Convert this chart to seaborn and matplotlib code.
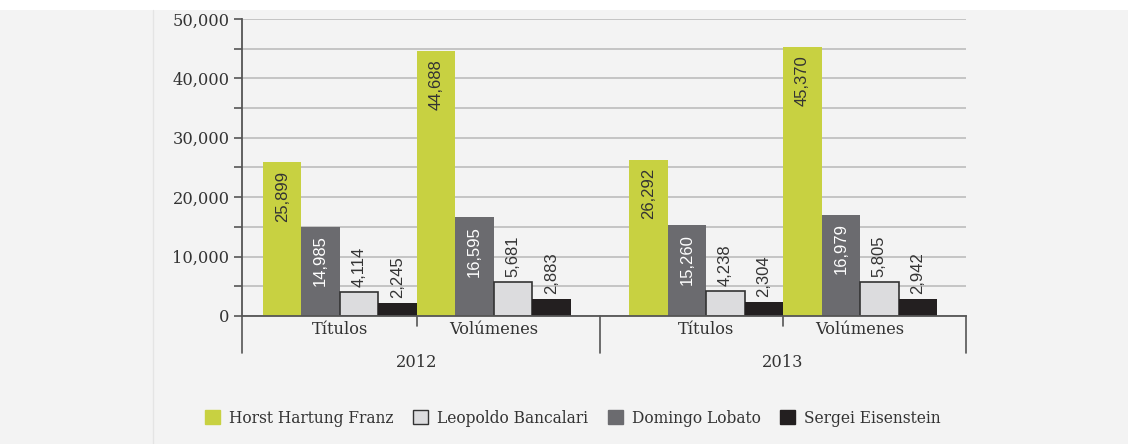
import matplotlib
matplotlib.use("Agg")
import matplotlib.pyplot as plt
from matplotlib.patches import Patch, Rectangle
from matplotlib.lines import Line2D
from matplotlib.ticker import MultipleLocator, FuncFormatter
import pandas as pd
import seaborn as sns

# data
years = ["2012", "2012", "2013", "2013"]
kinds = ["Títulos", "Volúmenes", "Títulos", "Volúmenes"]
horst = [25899, 44688, 26292, 45370]
domingo = [14985, 16595, 15260, 16979]
leopoldo = [4114, 5681, 4238, 5805]
sergei = [2245, 2883, 2304, 2942]

series = {
    "Horst Hartung Franz": horst,
    "Domingo Lobato": domingo,
    "Leopoldo Bancalari": leopoldo,
    "Sergei Eisenstein": sergei,
}
colors = {
    "Horst Hartung Franz": "#c8d141",
    "Domingo Lobato": "#6b6b6f",
    "Leopoldo Bancalari": "#dcdcde",
    "Sergei Eisenstein": "#231f20",
}
legend_order = ["Horst Hartung Franz", "Leopoldo Bancalari",
                "Domingo Lobato", "Sergei Eisenstein"]

# extra spacing between the two years (in category units)
year_gap = 0.377
year_list = sorted(set(years))
positions = [i + year_list.index(y) * year_gap for i, y in enumerate(years)]

rows = []
for name, vals in series.items():
    for p, v in zip(positions, vals):
        rows.append({"pos": p, "value": v, "serie": name})
df = pd.DataFrame(rows)

sns.set_style("white")
plt.rcParams["font.family"] = ["DejaVu Serif"]
text_color = "#333333"
axis_color = "#555555"
bg = "#f3f3f3"

fig = plt.figure(figsize=(11.28, 4.44), dpi=100, facecolor=bg)
ax = fig.add_axes([242 / 1128, 1 - 316 / 444, 724 / 1128, 297 / 444])
ax.set_facecolor(bg)

# white strip on top and thin divider line on the left
fig.patches.append(Rectangle((0, 1 - 10 / 444), 1, 10 / 444, transform=fig.transFigure,
                             facecolor="white", edgecolor="none", zorder=0))
fig.lines.append(Line2D([153 / 1128, 153 / 1128], [0, 1 - 10 / 444], transform=fig.transFigure,
                        color="#e4e4e4", lw=1))

sns.barplot(data=df, x="pos", y="value", hue="serie", hue_order=list(series.keys()),
            palette=colors, native_scale=True, width=1, gap=0, dodge=True,
            errorbar=None, saturation=1, legend=False, ax=ax, zorder=3, linewidth=0)

# outline on the light bars
for bar in ax.containers[2]:
    bar.set_edgecolor("#333333")
    bar.set_linewidth(1.2)

# data labels
inside = {0: text_color, 1: "white"}
for ci, cont in enumerate(ax.containers):
    for bar in cont:
        h = bar.get_height()
        x = bar.get_x() + bar.get_width() / 2
        lbl = f"{int(round(h)):,}"
        if ci in inside:
            ax.annotate(lbl, (x, h), xytext=(0, -6), textcoords="offset points",
                        ha="center", va="top", rotation=90, color=inside[ci],
                        family="Liberation Sans", fontsize=12, zorder=5)
        else:
            ax.annotate(lbl, (x, h), xytext=(0, 3.5), textcoords="offset points",
                        ha="center", va="bottom", rotation=90, color=text_color,
                        family="Liberation Sans", fontsize=12, zorder=5)

# axes
ax.set_ylim(0, 50000)
ax.set_xlim(-0.636, 4.065)
ax.yaxis.set_major_locator(MultipleLocator(10000))
ax.yaxis.set_minor_locator(MultipleLocator(5000))
ax.yaxis.set_major_formatter(FuncFormatter(lambda v, p: f"{int(v):,}"))
ax.tick_params(axis="y", which="both", direction="out", length=6, width=1.2,
               color=axis_color, labelsize=11.7, labelcolor=text_color, pad=3, left=True)
ax.grid(True, axis="y", which="both", color="#bcbcbc", lw=1.2, zorder=0)
ax.set_axisbelow(True)
ax.set_xticks([])
ax.set_xlabel("")
ax.set_ylabel("")
for side in ["top", "right"]:
    ax.spines[side].set_visible(False)
for side in ["left", "bottom"]:
    ax.spines[side].set_color(axis_color)
    ax.spines[side].set_linewidth(1.3)
    ax.spines[side].set_zorder(4)

# multi-level category axis
trans = ax.get_xaxis_transform()
short, long_ = -10 / 297, -37 / 297
xmin, xmax = ax.get_xlim()
for i, (p, k) in enumerate(zip(positions, kinds)):
    ax.text(p, -0.045, k, transform=trans, ha="center", va="center",
            fontsize=11.7, color=text_color)
for y in year_list:
    ps = [p for p, yy in zip(positions, years) if yy == y]
    mid = (ps[0] + ps[-1]) / 2
    ax.text(mid, -0.155, y, transform=trans, ha="center", va="center",
            fontsize=11.7, color=text_color)
    ax.plot([mid, mid], [0, short], transform=trans, color=axis_color, lw=1.2, clip_on=False)
year_edges = [xmin, (positions[1] + positions[2]) / 2, xmax]
for e in year_edges:
    ax.plot([e, e], [0, long_], transform=trans, color=axis_color, lw=1.2, clip_on=False)

# legend
handles = [Patch(facecolor=colors[n],
                 edgecolor="#333333" if n == "Leopoldo Bancalari" else colors[n],
                 linewidth=1.0)
           for n in legend_order]
fig.legend(handles, legend_order, loc="center", bbox_to_anchor=(573 / 1128, 1 - 418 / 444),
           ncol=4, frameon=False, fontsize=11.2, handlelength=0.95, handleheight=0.95,
           handletextpad=0.6, columnspacing=1.25, labelcolor=text_color)

fig.savefig("out.png", dpi=100, facecolor=bg)
